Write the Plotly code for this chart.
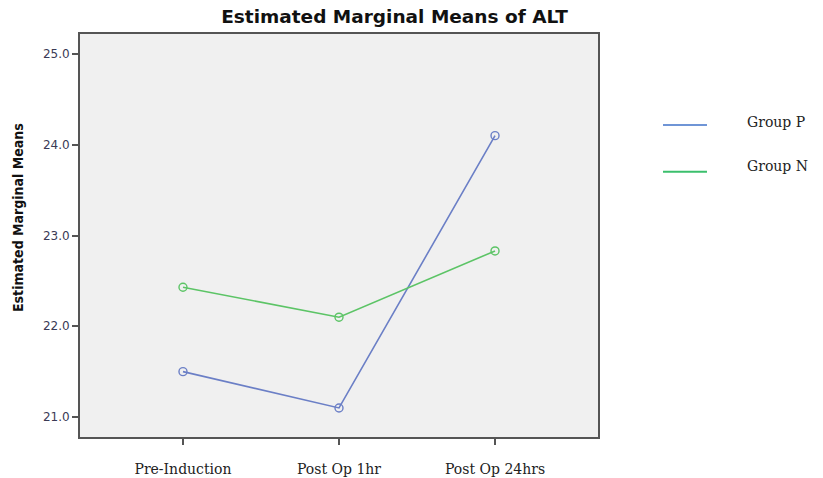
import plotly.graph_objects as go

# data
timepoints = ["Pre-Induction", "Post Op 1hr", "Post Op 24hrs"]
group_p = [21.50, 21.10, 24.10]
group_n = [22.43, 22.10, 22.83]
y_ticks = [21.0, 22.0, 23.0, 24.0, 25.0]

series = [
    ("Group P", group_p, "#6b7fc6", "#6f95d6"),
    ("Group N", group_n, "#5cc466", "#3bbf6c"),
]

serif = 'DejaVu Serif, Liberation Serif, serif'

fig = go.Figure()

for name, vals, col, _ in series:
    fig.add_trace(go.Scatter(
        x=list(range(len(timepoints))),
        y=vals,
        name=name,
        mode='lines+markers',
        line=dict(color=col, width=1.6),
        marker=dict(symbol='circle-open', size=8, color=col, line=dict(width=1.4)),
        showlegend=False
    ))

# legend drawn by hand to mimic the SPSS layout
legend_y = [0.774, 0.658]
text_y = [0.782, 0.672]
for (name, _, _, lcol), ly, ty in zip(series, legend_y, text_y):
    fig.add_shape(type='line', xref='paper', yref='paper',
                  x0=1.1255, x1=1.2104, y0=ly, y1=ly,
                  line=dict(color=lcol, width=2))
    fig.add_annotation(text=name, xref='paper', yref='paper',
                       x=1.2838, y=ty, xanchor='left', yanchor='middle',
                       showarrow=False,
                       font=dict(family=serif, size=14, color='#222'))

# y axis title as annotation (it sits a bit above centre in the original)
fig.add_annotation(text='<b>Estimated Marginal Means</b>', xref='paper', yref='paper',
                   x=-0.1197, y=(437 - 217) / 403, xanchor='center', yanchor='middle',
                   textangle=-90, showarrow=False,
                   font=dict(family='DejaVu Sans Condensed, DejaVu Sans, sans-serif',
                             size=14, color='#111'))

fig.update_layout(
    width=823, height=478,
    margin=dict(l=80, r=225, t=34, b=41),
    paper_bgcolor='white',
    plot_bgcolor='#f0f0f0',
    title=dict(text='<b>Estimated Marginal Means of ALT</b>',
               x=394.5 / 823, xanchor='center', y=1 - 17 / 478, yanchor='middle',
               font=dict(family='DejaVu Sans, Verdana, sans-serif', size=18.5, color='#111')),
    xaxis=dict(
        tickmode='array',
        tickvals=list(range(len(timepoints))),
        ticktext=timepoints,
        range=[-0.66, 2.66],
        automargin=False,
        showgrid=False, zeroline=False,
        showline=True, mirror=True, linecolor='#555', linewidth=2,
        ticks='outside', ticklen=6, tickcolor='#555', tickwidth=2,
        ticklabelstandoff=12,
        tickfont=dict(family=serif, size=14, color='#222')
    ),
    yaxis=dict(
        tickmode='array',
        tickvals=y_ticks,
        ticktext=[f"{v:.1f}" for v in y_ticks],
        range=[20.78, 25.22],
        automargin=False,
        showgrid=False, zeroline=False,
        showline=True, mirror=True, linecolor='#555', linewidth=2,
        ticks='outside', ticklen=6, tickcolor='#555', tickwidth=2,
        tickfont=dict(family='DejaVu Sans, Verdana, sans-serif', size=12, color='#3a3a55')
    ),
)

# drop the browser's default body margin so the figure fills the window exactly
fig.write_html("out.html", config={'displayModeBar': False},
               post_script="document.body.style.margin='0';")
